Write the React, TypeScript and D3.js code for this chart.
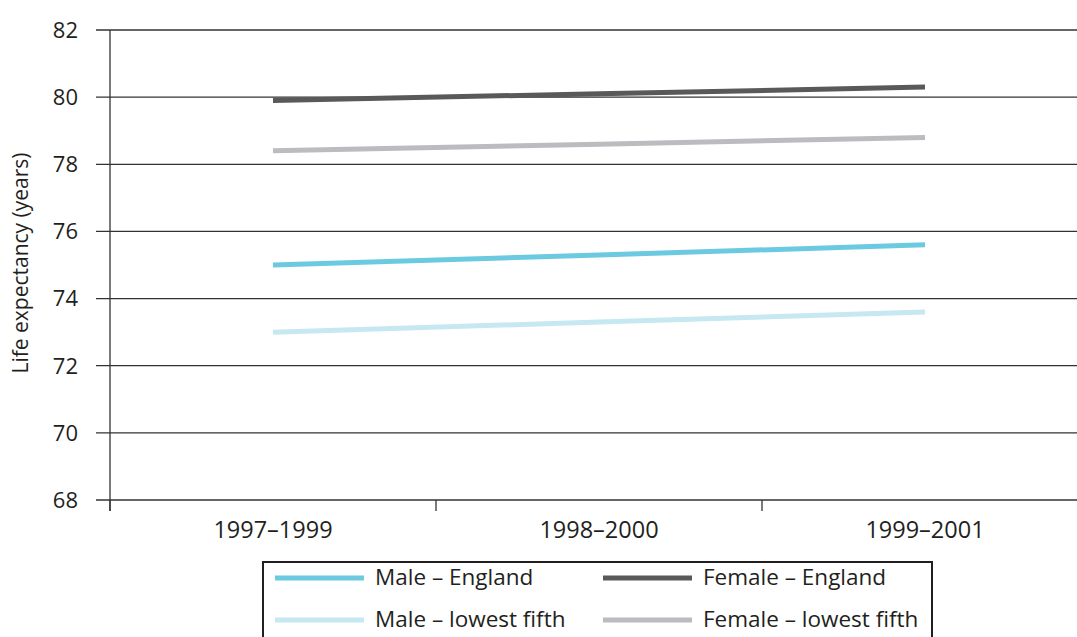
import React from "react";
import * as d3 from "d3";

const categories = ["1997–1999", "1998–2000", "1999–2001"];
const yTicks = [68, 70, 72, 74, 76, 78, 80, 82];
const maleEngland = [75.0, 75.3, 75.6];
const maleLowest = [73.0, 73.3, 73.6];
const femaleEngland = [79.9, 80.1, 80.3];
const femaleLowest = [78.4, 78.6, 78.8];

const seriesNames = ["Male – England", "Female – England", "Male – lowest fifth", "Female – lowest fifth"];
const seriesValues = [maleEngland, femaleEngland, maleLowest, femaleLowest];
const seriesColors = ["#6ccae0", "#58595b", "#c6e8f1", "#bbbcc0"];

export default function App() {
  const W = 1077, H = 637;
  const left = 110, right = 1088, top = 30, bottom = 500;
  const x = d3.scaleBand<string>().domain(categories).range([left, right]);
  const y = d3.scaleLinear().domain([68, 82]).range([bottom, top]);
  const font = "'Open Sans', 'Noto Sans', sans-serif";
  const line = d3.line<number>().x((_, i) => (x(categories[i]) as number) + x.bandwidth() / 2).y((d) => y(d));
  const boundaries = categories.map((c) => x(c) as number).concat([right]);
  const legendCols = [275, 603];
  const legendRows = [578, 620];
  return (
    <svg width={W} height={H} style={{ position: "absolute", left: 0, top: 0 }}>
      <rect width={W} height={H} fill="#fff" />
      {yTicks.map((t) => (
        <g key={t}>
          <line x1={96} x2={W} y1={y(t)} y2={y(t)} stroke="#333" strokeWidth={1.3} />
          <text x={78} y={y(t)} dy="0.36em" textAnchor="end" fontSize={22} fontFamily={font} fill="#231f20">{t}</text>
        </g>
      ))}
      <line x1={left} x2={left} y1={top} y2={bottom + 11} stroke="#333" strokeWidth={1.3} />
      {boundaries.map((b, i) => (
        <line key={i} x1={b} x2={b} y1={bottom} y2={bottom + 11} stroke="#333" strokeWidth={1.3} />
      ))}
      {categories.map((c) => (
        <text key={c} x={(x(c) as number) + x.bandwidth() / 2} y={538} textAnchor="middle" fontSize={23.5} fontFamily={font} fill="#231f20">{c}</text>
      ))}
      <text transform={`translate(28,263) rotate(-90)`} textAnchor="middle" fontSize={21} fontFamily={font} fill="#231f20">Life expectancy (years)</text>
      {seriesValues.map((vals, i) => (
        <path key={i} d={line(vals) as string} fill="none" stroke={seriesColors[i]} strokeWidth={5} />
      ))}
      <rect x={263} y={562} width={669} height={90} fill="#fff" stroke="#231f20" strokeWidth={2} />
      {seriesNames.map((n, i) => {
        const cx = legendCols[i % 2];
        const cy = legendRows[Math.floor(i / 2)];
        return (
          <g key={n}>
            <line x1={cx} x2={cx + 89} y1={cy} y2={cy} stroke={seriesColors[i]} strokeWidth={5} />
            <text x={cx + 100} y={cy - 1} dy="0.35em" fontSize={22.5} fontFamily={font} fill="#231f20">{n}</text>
          </g>
        );
      })}
    </svg>
  );
}
